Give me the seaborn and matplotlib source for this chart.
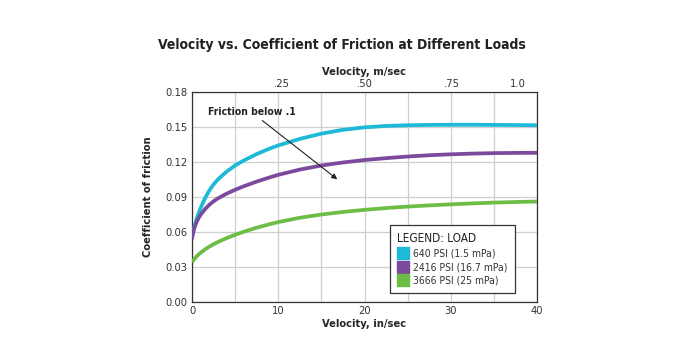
import matplotlib
matplotlib.use("Agg")
import matplotlib.pyplot as plt
from matplotlib.lines import Line2D
from matplotlib.ticker import MultipleLocator, FixedLocator, FixedFormatter
import seaborn as sns
import pandas as pd

# ---- data ----
velocity_in = [0, 0.1, 0.25, 0.5, 0.75, 1, 1.5, 2, 2.5, 3, 4, 5, 6, 7.5, 9, 10, 12.5, 15,
               17.5, 20, 22.5, 25, 27.5, 30, 32.5, 35, 37.5, 40]
cof_640 = [0.057, 0.0598, 0.064, 0.0703, 0.0758, 0.0806, 0.0888, 0.0955, 0.1008, 0.1050,
           0.1117, 0.1170, 0.1213, 0.1268, 0.1315, 0.1342, 0.1398, 0.1443, 0.1476, 0.1497,
           0.1509, 0.1515, 0.1518, 0.1519, 0.1519, 0.1518, 0.1517, 0.1515]
cof_2416 = [0.054, 0.0585, 0.0630, 0.0680, 0.0718, 0.0748, 0.0795, 0.0833, 0.0863, 0.0888,
            0.0928, 0.0962, 0.0992, 0.1032, 0.1068, 0.1090, 0.1135, 0.1170, 0.1196, 0.1217,
            0.1233, 0.1247, 0.1258, 0.1266, 0.1272, 0.1276, 0.1278, 0.1279]
cof_3666 = [0.034, 0.0352, 0.0366, 0.0388, 0.0406, 0.0422, 0.0450, 0.0474, 0.0495, 0.0514,
            0.0547, 0.0576, 0.0602, 0.0637, 0.0667, 0.0685, 0.0722, 0.0750, 0.0772, 0.0790,
            0.0805, 0.0818, 0.0828, 0.0837, 0.0845, 0.0852, 0.0857, 0.0861]
series_names = ["640 PSI (1.5 mPa)", "2416 PSI (16.7 mPa)", "3666 PSI (25 mPa)"]
series_colors = ["#1DB9D6", "#7B4A9C", "#6CBD45"]
bottom_ticks = [0, 10, 20, 30, 40]
y_ticks = [0.00, 0.03, 0.06, 0.09, 0.12, 0.15, 0.18]
top_tick_pos = [10.4, 20, 30.1, 37.8]
top_tick_labels = [".25", ".50", ".75", "1.0"]

rows = []
for name, vals in zip(series_names, [cof_640, cof_2416, cof_3666]):
    for v, c in zip(velocity_in, vals):
        rows.append({"velocity": v, "cof": c, "load": name})
df = pd.DataFrame(rows)

sns.set_style("white")
plt.rcParams["font.family"] = ["DejaVu Sans"]
plt.rcParams["font.stretch"] = "condensed"

fig = plt.figure(figsize=(6.9, 3.45), dpi=100)
ax = fig.add_axes([192 / 690, 1 - 302 / 345, 345 / 690, 210 / 345])

sns.lineplot(data=df, x="velocity", y="cof", hue="load", hue_order=series_names,
             palette=series_colors, linewidth=2.7, legend=False, ax=ax, zorder=3)
for ln in ax.get_lines():
    ln.set_solid_capstyle("butt")
    ln.set_solid_joinstyle("round")

ax.set_xlim(0, 40)
ax.set_ylim(0, 0.18)
ax.set_xticks(bottom_ticks)
ax.xaxis.set_minor_locator(MultipleLocator(5))
ax.set_yticks(y_ticks)
ax.set_yticklabels([f"{t:.2f}" for t in y_ticks])
ax.grid(True, which="both", color="#CFCFCF", linewidth=0.9)
ax.tick_params(which="both", length=0, labelsize=8, colors="#333333", pad=3)
for s in ax.spines.values():
    s.set_color("#333333")
    s.set_linewidth(0.9)
ax.set_axisbelow(True)

ax.set_xlabel("Velocity, in/sec", fontsize=8, fontweight="bold", labelpad=2)
ax.set_ylabel("Coefficient of friction", fontsize=8, fontweight="bold", labelpad=9)

top = ax.secondary_xaxis("top")
top.xaxis.set_major_locator(FixedLocator(top_tick_pos))
top.xaxis.set_major_formatter(FixedFormatter(top_tick_labels))
top.tick_params(length=0, labelsize=8, colors="#333333", pad=2)
top.set_xlabel("Velocity, m/sec", fontsize=8, fontweight="bold", labelpad=3)
top.spines["top"].set_visible(False)

ax.annotate("", xy=(17.1, 0.1037), xytext=(7.9, 0.157),
            arrowprops=dict(arrowstyle="-|>", color="#222222", lw=0.8, mutation_scale=8), zorder=5)
ax.text(6.9, 0.163, "Friction below .1", fontsize=7.5, fontweight="bold",
        ha="center", va="center", color="#222222", zorder=5)

handles = [Line2D([0], [0], marker="s", linestyle="none", markersize=8,
                  markerfacecolor=c, markeredgecolor=c) for c in series_colors]
leg = ax.legend(handles, series_names, title="LEGEND: LOAD", loc="upper left",
                bbox_to_anchor=(0.559, 0.393), frameon=True, fancybox=False,
                edgecolor="#333333", framealpha=1, fontsize=7.5, title_fontsize=8.5,
                handletextpad=0.5, labelspacing=0.35, borderpad=0.7, handlelength=1.0)
leg._legend_box.align = "left"
leg.get_frame().set_linewidth(0.9)
for t in leg.get_texts():
    t.set_color("#333333")
leg.get_title().set_color("#222222")

fig.text(342 / 690, 1 - 45 / 345, "Velocity vs. Coefficient of Friction at Different Loads",
         ha="center", va="center", fontsize=10, fontweight="bold", color="#222222")

fig.savefig("out.png", dpi=100)
